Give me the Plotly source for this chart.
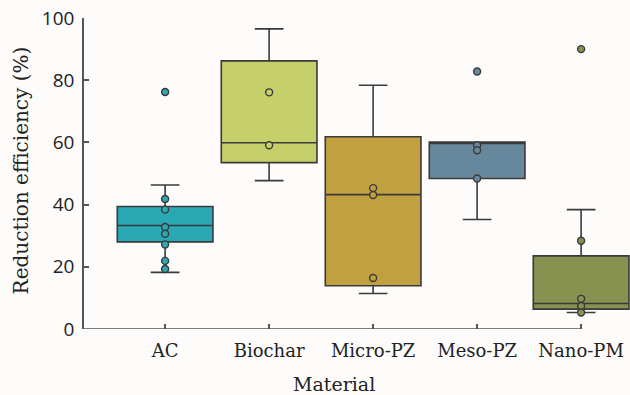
import plotly.graph_objects as go

categories = ["AC", "Biochar", "Micro-PZ", "Meso-PZ", "Nano-PM"]
colors = ["#2aa9b4", "#c5d06a", "#c2a040", "#67879d", "#879150"]

q1 = [28.0, 53.5, 13.9, 48.4, 6.4]
median = [33.3, 59.9, 43.2, 59.7, 8.2]
q3 = [39.4, 86.2, 61.8, 60.1, 23.5]
lower_fence = [18.2, 47.7, 11.4, 35.2, 5.3]
upper_fence = [46.3, 96.5, 78.4, 60.1, 38.4]

points = {
    "AC": [41.8, 38.4, 32.8, 30.6, 27.2, 21.9, 19.3, 76.2],
    "Biochar": [76.1, 59.1],
    "Micro-PZ": [45.3, 43.1, 16.4],
    "Meso-PZ": [82.8, 59.1, 57.5, 48.4],
    "Nano-PM": [90.0, 28.4, 9.7, 7.4, 5.3],
}

y_ticks = [0, 20, 40, 60, 80, 100]

fig = go.Figure()
for i, c in enumerate(categories):
    fig.add_trace(go.Box(
        x=[c], q1=[q1[i]], median=[median[i]], q3=[q3[i]],
        lowerfence=[lower_fence[i]], upperfence=[upper_fence[i]],
        fillcolor=colors[i], line=dict(color="#3a3a3a", width=1.6),
        width=0.92, whiskerwidth=0.3, boxpoints=False, showlegend=False,
        hoverinfo="skip",
    ))
for i, c in enumerate(categories):
    vals = points[c]
    fig.add_trace(go.Scatter(
        x=[c] * len(vals), y=vals, mode="markers",
        marker=dict(size=7, color=colors[i], line=dict(color="#3a3a3a", width=1.4)),
        showlegend=False, cliponaxis=False,
    ))

bg = "#fdfcfa"
fig.update_layout(
    width=630, height=395,
    margin=dict(l=84, r=0, t=18, b=66),
    paper_bgcolor=bg, plot_bgcolor=bg,
    showlegend=False,
    xaxis=dict(
        type="category", categoryorder="array", categoryarray=categories,
        range=[-0.78, 4.47], showgrid=False, zeroline=False, showline=False,
        ticks="inside", ticklen=5, tickwidth=1.5, tickcolor="#555555",
        ticklabelstandoff=9,
        tickfont=dict(family="DejaVu Serif", size=18, color="#222222"),
    ),
    yaxis=dict(
        range=[0, 100], tickvals=y_ticks, showgrid=False, zeroline=False,
        showline=True, linecolor="#555555", linewidth=1.5,
        ticks="inside", ticklen=5, tickwidth=1.5, tickcolor="#555555",
        ticklabelstandoff=4,
        tickfont=dict(family="Open Sans", size=19, color="#222222"),
    ),
    shapes=[dict(type="line", xref="x", yref="y", x0=-0.78, x1=4, y0=0, y1=0,
                 line=dict(color="#555555", width=1.5))],
    annotations=[
        dict(text="Reduction efficiency (%)", xref="paper", yref="paper",
             x=(21 - 84) / 546, y=0.51, xanchor="center", yanchor="middle",
             textangle=-90, showarrow=False,
             font=dict(family="DejaVu Serif", size=20, color="#222222")),
        dict(text="Material", xref="paper", yref="paper",
             x=(334 - 84) / 546, y=(329 - 384) / 310.7,
             xanchor="center", yanchor="middle", showarrow=False,
             font=dict(family="DejaVu Serif", size=19, color="#222222")),
    ],
)

fig.write_html("out.html", config={"displayModeBar": False},
               post_script="document.body.style.margin='0';")
